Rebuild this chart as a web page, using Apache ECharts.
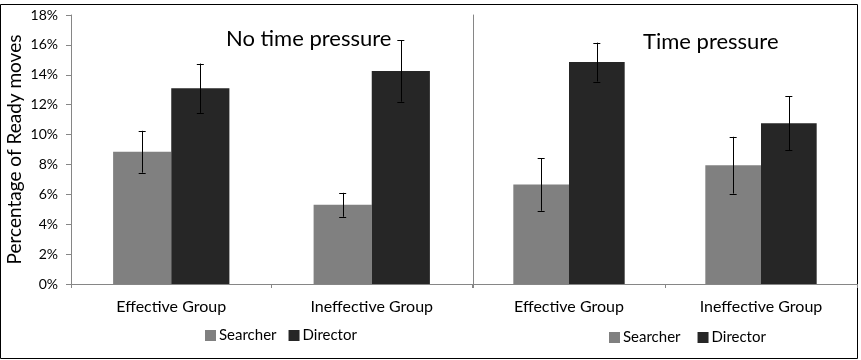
<!DOCTYPE html>
<html>
<head>
<meta charset="utf-8">
<script src="https://cdn.jsdelivr.net/npm/echarts@6/dist/echarts.min.js"></script>
<style>
  html, body { margin: 0; padding: 0; background: #fff; }
  #chart { width: 861px; height: 360px; }
</style>
</head>
<body>
<div id="chart"></div>
<script>
// data (percent)
const categories = ['Effective Group', 'Ineffective Group'];
const noPressureSearcher = [8.85, 5.3];
const noPressureDirector = [13.1, 14.25];
const noPressureSearcherErr = [1.4, 0.8];
const noPressureDirectorErr = [1.65, 2.05];
const pressureSearcher = [6.65, 7.95];
const pressureDirector = [14.85, 10.75];
const pressureSearcherErr = [1.75, 1.9];
const pressureDirectorErr = [1.3, 1.8];
const yTicks = [0, 2, 4, 6, 8, 10, 12, 14, 16, 18];

const FONT = 'Lato, "Open Sans", sans-serif';
const axisGray = '#868686';
const searcherColor = '#808080';
const directorColor = '#262626';
const BAR_W = 0.29; // share of category width

const chart = echarts.init(document.getElementById('chart'));

// error bar series, drawn through the axis scales
function errSeries(name, gridIdx, values, errs, side) {
  return {
    name: name,
    type: 'custom',
    xAxisIndex: gridIdx,
    yAxisIndex: gridIdx,
    silent: true,
    z: 5,
    data: values.map((v, i) => [i, v, errs[i]]),
    encode: { x: 0, y: 1 },
    renderItem: function (params, api) {
      const idx = api.value(0);
      const v = api.value(1);
      const e = api.value(2);
      const band = api.size([1, 0])[0];
      const cx = api.coord([idx, 0])[0] + side * band * BAR_W / 2;
      const yTop = api.coord([idx, v + e])[1];
      const yBot = api.coord([idx, v - e])[1];
      const cap = 3.5;
      const style = { stroke: '#000', lineWidth: 1 };
      return {
        type: 'group',
        children: [
          { type: 'line', shape: { x1: Math.round(cx) + 0.5, y1: yTop, x2: Math.round(cx) + 0.5, y2: yBot }, style: style },
          { type: 'line', shape: { x1: cx - cap, y1: Math.round(yTop) + 0.5, x2: cx + cap, y2: Math.round(yTop) + 0.5 }, style: style },
          { type: 'line', shape: { x1: cx - cap, y1: Math.round(yBot) + 0.5, x2: cx + cap, y2: Math.round(yBot) + 0.5 }, style: style }
        ]
      };
    }
  };
}

function barSeries(name, gridIdx, values, color) {
  return {
    name: name,
    type: 'bar',
    xAxisIndex: gridIdx,
    yAxisIndex: gridIdx,
    barWidth: (BAR_W * 100) + '%',
    barGap: '0%',
    itemStyle: { color: color },
    data: values
  };
}

function xAxisFor(gridIdx) {
  return {
    type: 'category',
    gridIndex: gridIdx,
    data: categories,
    axisLine: { lineStyle: { color: axisGray, width: 1 } },
    axisTick: { show: true, length: 4, lineStyle: { color: axisGray } },
    axisLabel: { color: '#000', fontFamily: FONT, fontSize: 16, margin: 15 }
  };
}

const option = {
  animation: false,
  textStyle: { fontFamily: FONT },
  graphic: [
    {
      type: 'rect',
      shape: { x: 0.5, y: 4.5, width: 857, height: 354 },
      style: { fill: 'none', stroke: '#000', lineWidth: 1 },
      z: -10
    }
  ],
  title: [
    { text: 'No time pressure', left: 226, top: 28, padding: 0, textStyle: { fontFamily: FONT, fontSize: 22, fontWeight: 'normal', color: '#000' } },
    { text: 'Time pressure', left: 643, top: 31, padding: 0, textStyle: { fontFamily: FONT, fontSize: 22, fontWeight: 'normal', color: '#000' } }
  ],
  legend: [
    {
      left: 205, top: 328, padding: 0, icon: 'rect', itemWidth: 11, itemHeight: 11, itemGap: 12,
      data: ['Searcher', 'Director'],
      textStyle: { fontFamily: FONT, fontSize: 15, color: '#000', padding: [0, 0, 0, -2] }
    },
    {
      left: 609, top: 330, padding: 0, icon: 'rect', itemWidth: 11, itemHeight: 11, itemGap: 17,
      data: ['Searcher', 'Director'],
      textStyle: { fontFamily: FONT, fontSize: 15, color: '#000', padding: [0, 0, 0, -2] }
    }
  ],
  grid: [
    { left: 71, top: 15, width: 401, bottom: 76 },
    { left: 473, top: 15, width: 384, bottom: 76 }
  ],
  xAxis: [xAxisFor(0), xAxisFor(1)],
  yAxis: [
    {
      type: 'value',
      gridIndex: 0,
      min: yTicks[0],
      max: yTicks[yTicks.length - 1],
      interval: 2,
      name: 'Percentage of Ready moves',
      nameLocation: 'middle',
      nameGap: 47,
      nameTextStyle: { fontFamily: FONT, fontSize: 19, color: '#000' },
      axisLine: { show: true, lineStyle: { color: axisGray } },
      axisTick: { show: true, length: 5, lineStyle: { color: axisGray } },
      axisLabel: { formatter: '{value}%', color: '#000', fontFamily: FONT, fontSize: 14, margin: 13 },
      splitLine: { show: false }
    },
    {
      type: 'value',
      gridIndex: 1,
      min: yTicks[0],
      max: yTicks[yTicks.length - 1],
      interval: 2,
      axisLine: { show: true, lineStyle: { color: axisGray } },
      axisTick: { show: false },
      axisLabel: { show: false },
      splitLine: { show: false }
    }
  ],
  series: [
    barSeries('Searcher', 0, noPressureSearcher, searcherColor),
    barSeries('Director', 0, noPressureDirector, directorColor),
    barSeries('Searcher', 1, pressureSearcher, searcherColor),
    barSeries('Director', 1, pressureDirector, directorColor),
    errSeries('SearcherErr', 0, noPressureSearcher, noPressureSearcherErr, -1),
    errSeries('DirectorErr', 0, noPressureDirector, noPressureDirectorErr, 1),
    errSeries('SearcherErr', 1, pressureSearcher, pressureSearcherErr, -1),
    errSeries('DirectorErr', 1, pressureDirector, pressureDirectorErr, 1)
  ]
};

chart.setOption(option);
</script>
</body>
</html>
